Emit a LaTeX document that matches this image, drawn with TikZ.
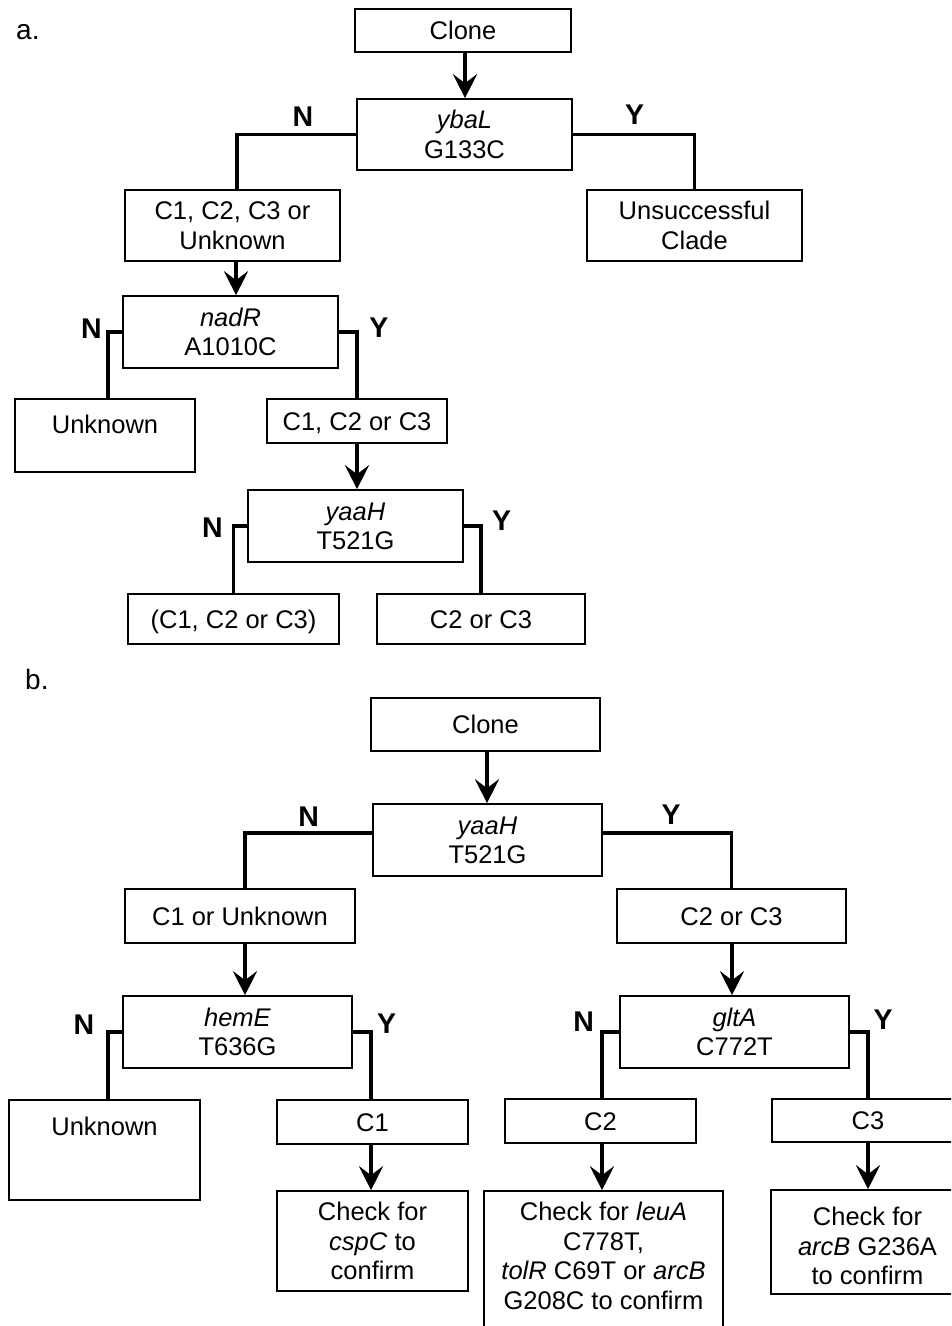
\documentclass[tikz,border=0pt]{standalone}
\usepackage{fontspec}
\setmainfont{Liberation Sans}
\usetikzlibrary{arrows.meta}
\newcommand\bxs{\rule[-5.5pt]{0pt}{29.3pt}}
\tikzset{
 box/.style={draw, line width=1.6pt, inner sep=0pt, align=center, font=\fontsize{25.5}{29.5}\selectfont},
 link/.style={line width=3.6pt},
 arr/.style={line width=3.6pt, -{Stealth[length=24pt,width=24pt,inset=9pt]}},
 yn/.style={font=\fontsize{28.5}{30}\selectfont\bfseries, inner sep=0pt, text height=20.4pt, text depth=0pt},
 panel/.style={font=\fontsize{28}{30}\selectfont, inner sep=0pt, anchor=base west},
}
\begin{document}
\begin{tikzpicture}[x=1pt,y=-1pt]
\useasboundingbox (0,0) rectangle (951,1326);
\fill[white] (0,0) rectangle (951,1326);
\clip (0,0) rectangle (951,1326);

% ---------- panel a ----------
\node[panel] (labA) at (16,39) {a.};
\node[box, minimum width=216pt, minimum height=43pt] (cloneA) at (463,30.5) {\bxs Clone};
\node[box, minimum width=215pt, minimum height=71pt] (ybaL) at (464.5,134.5) {\bxs\textit{ybaL}\\\bxs G133C};
\node[box, minimum width=215pt, minimum height=71pt] (c123u) at (232.5,225.5) {\bxs C1, C2, C3 or\\\bxs Unknown};
\node[box, minimum width=215pt, minimum height=71pt] (unsucc) at (694.5,225.5) {\bxs Unsuccessful\\\bxs Clade};
\node[box, minimum width=215pt, minimum height=72pt] (nadR) at (230.5,332) {\bxs\textit{nadR}\\\bxs A1010C};
\node[box, minimum width=180pt, minimum height=73pt] (unkA) at (105,435.5) {\raisebox{1.85pt}[0pt][0pt]{Unknown}};
\node[box, minimum width=180pt, minimum height=44pt] (c123a) at (357,421) {\bxs C1, C2 or C3};
\node[box, minimum width=215pt, minimum height=72pt] (yaaHa) at (355.5,526) {\bxs\textit{yaaH}\\\bxs T521G};
\node[box, minimum width=211pt, minimum height=50pt] (pc123) at (233.5,619) {\bxs (C1, C2 or C3)};
\node[box, minimum width=208pt, minimum height=50pt] (c23a) at (481,619) {\bxs C2 or C3};

\node[yn] (nA1) at (303,116) {N};
\node[yn] (yA1) at (634.5,114) {Y};
\node[yn] (nA2) at (91.5,328.7) {N};
\node[yn] (yA2) at (379,327) {Y};
\node[yn] (nA3) at (212.5,527) {N};
\node[yn] (yA3) at (501.7,520) {Y};

\draw[arr] ([xshift=2pt]cloneA.south) -- ([xshift=0.5pt]ybaL.north);
\draw[link] (ybaL.west) -| ([xshift=4.5pt]c123u.north);
\draw[link] (ybaL.east) -| (unsucc.north);
\draw[arr] ([xshift=3.5pt]c123u.south) -- ([xshift=5.5pt]nadR.north);
\draw[link] (nadR.west) -| ([xshift=3pt]unkA.north);
\draw[link] (nadR.east) -| (c123a.north);
\draw[arr] (c123a.south) -- ([xshift=1.5pt]yaaHa.north);
\draw[link] (yaaHa.west) -| (pc123.north);
\draw[link] (yaaHa.east) -| (c23a.north);

% ---------- panel b ----------
\node[panel] (labB) at (25,689) {b.};
\node[box, minimum width=229pt, minimum height=53pt] (cloneB) at (485.5,724.5) {\bxs Clone};
\node[box, minimum width=229pt, minimum height=72pt] (yaaHb) at (487.5,840) {\bxs\textit{yaaH}\\\bxs T521G};
\node[box, minimum width=230pt, minimum height=54pt] (c1u) at (240,916) {\bxs C1 or Unknown};
\node[box, minimum width=229pt, minimum height=54pt] (c23b) at (731.5,916) {\bxs C2 or C3};
\node[box, minimum width=229pt, minimum height=72pt] (hemE) at (237.5,1032) {\bxs\textit{hemE}\\\bxs T636G};
\node[box, minimum width=229pt, minimum height=72pt] (gltA) at (734.5,1032) {\bxs\textit{gltA}\\\bxs C772T};
\node[box, minimum width=191pt, minimum height=100pt] (unkB) at (104.5,1150) {\raisebox{14.85pt}[0pt][0pt]{Unknown}};
\node[box, minimum width=191pt, minimum height=44pt] (c1) at (372.5,1122) {\bxs C1};
\node[box, minimum width=191pt, minimum height=100pt] (cspC) at (372.5,1241) {\bxs Check for\\\bxs\textit{cspC} to\\\bxs confirm};
\node[box, minimum width=191pt, minimum height=44pt] (c2) at (600.5,1121) {\bxs C2};
\node[box, minimum width=192pt, minimum height=43pt] (c3) at (868,1120.5) {\bxs C3};
\node[box, minimum width=239pt, minimum height=140pt] (leuA) at (603.5,1261) {\bxs Check for \textit{leuA}\\\bxs C778T,\\\bxs\textit{tolR} C69T or \textit{arcB}\\\rule[-15.5pt]{0pt}{39.3pt}G208C to confirm};
\node[box, minimum width=193pt, minimum height=104pt] (arcB) at (867.5,1242) {\rule[-5.5pt]{0pt}{37.3pt}Check for\\\bxs\textit{arcB} G236A\\\bxs to confirm};

\node[yn] (nB1) at (308.7,816) {N};
\node[yn] (yB1) at (671,814.5) {Y};
\node[yn] (nB2) at (84,1024.7) {N};
\node[yn] (yB2) at (386.7,1023.5) {Y};
\node[yn] (nB3) at (583.7,1021) {N};
\node[yn] (yB3) at (883,1019) {Y};

\draw[arr] ([xshift=1.5pt]cloneB.south) -- ([xshift=-0.5pt]yaaHb.north);
\draw[link] ([yshift=7pt]yaaHb.west) -| ([xshift=5pt]c1u.north);
\draw[link] ([yshift=7pt]yaaHb.east) -| (c23b.north);
\draw[arr] ([xshift=5pt]c1u.south) -- ([xshift=7.5pt]hemE.north);
\draw[arr] ([xshift=0.5pt]c23b.south) -- ([xshift=-2.5pt]gltA.north);
\draw[link] (hemE.west) -| ([xshift=3.5pt]unkB.north);
\draw[link] (hemE.east) -| ([xshift=-1.5pt]c1.north);
\draw[arr] ([xshift=-1.5pt]c1.south) -- ([xshift=-1.5pt]cspC.north);
\draw[link] (gltA.west) -| ([xshift=1.5pt]c2.north);
\draw[link] (gltA.east) -| (c3.north);
\draw[arr] ([xshift=1.5pt]c2.south) -- ([xshift=-1.5pt]leuA.north);
\draw[arr] (c3.south) -- ([xshift=0.5pt]arcB.north);
\end{tikzpicture}
\end{document}
